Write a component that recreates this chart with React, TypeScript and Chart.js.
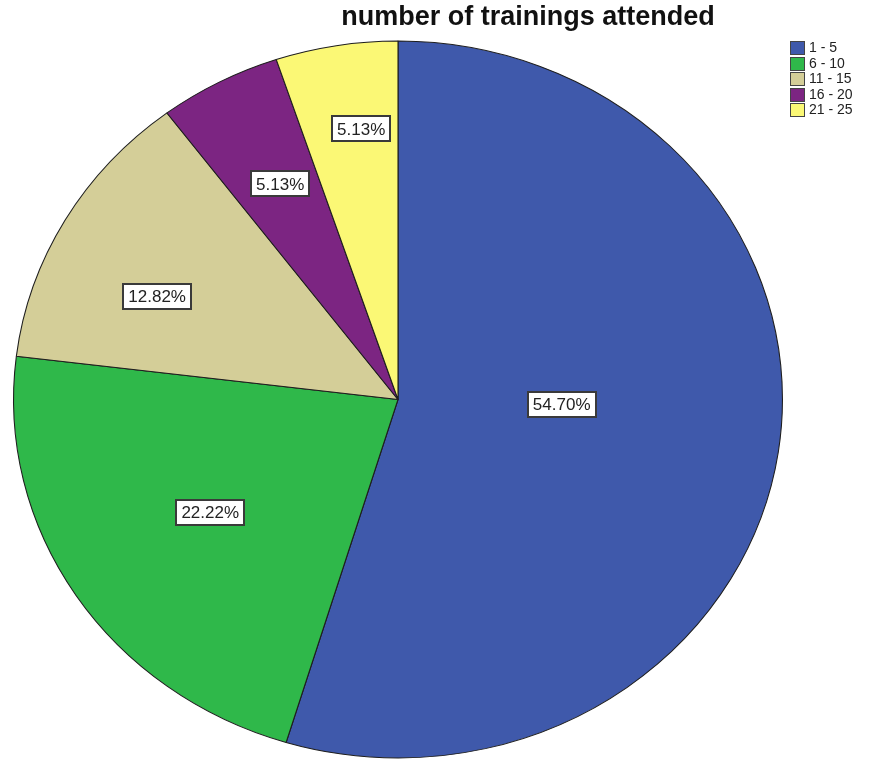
import { useEffect, useRef } from 'react';
import { Chart, registerables } from 'chart.js';

Chart.register(...registerables);

// Share of respondents by number of trainings attended (percent)
const categories = ['1 - 5', '6 - 10', '11 - 15', '16 - 20', '21 - 25'];
const percentages = [54.7, 22.22, 12.82, 5.13, 5.13];
const sliceColors = ['#3F59AB', '#2FB84A', '#D4CE98', '#7C2582', '#FBF875'];
const chartTitle = 'number of trainings attended';

// Pie is drawn as a slightly wide ellipse (horizontal / vertical radius)
const STRETCH_X = 385 / 359;
// Label anchor per slice: fraction of radius and angular nudge in degrees
const labelRadius = [0.426, 0.581, 0.689, 0.675, 0.761];
const labelNudgeDeg = [-6.6, 0.3, -5.4, 0.7, 2.0];

const FONT = '"Liberation Sans", Arial, Helvetica, sans-serif';

const stretchPlugin = {
  id: 'stretchPie',
  beforeDatasetsDraw(chart: any) {
    const arc = chart.getDatasetMeta(0).data[0];
    if (!arc) return;
    const ctx = chart.ctx;
    ctx.save();
    ctx.translate(arc.x, arc.y);
    ctx.scale(STRETCH_X, 1);
    ctx.translate(-arc.x, -arc.y);
  },
  afterDatasetsDraw(chart: any) {
    chart.ctx.restore();
  },
};

const decorPlugin = {
  id: 'decor',
  afterDraw(chart: any) {
    const ctx: CanvasRenderingContext2D = chart.ctx;
    const meta = chart.getDatasetMeta(0);

    // value labels in framed white boxes
    ctx.save();
    ctx.font = `17px ${FONT}`;
    ctx.textAlign = 'center';
    ctx.textBaseline = 'middle';
    meta.data.forEach((arc: any, i: number) => {
      const { startAngle, endAngle, outerRadius, x, y } = arc.getProps(
        ['startAngle', 'endAngle', 'outerRadius', 'x', 'y'],
        true
      );
      const a = (startAngle + endAngle) / 2 + (labelNudgeDeg[i] * Math.PI) / 180;
      const r = outerRadius * labelRadius[i];
      const px = x + Math.cos(a) * r * STRETCH_X;
      const py = y + Math.sin(a) * r;
      const text = percentages[i].toFixed(2) + '%';
      const w = ctx.measureText(text).width + 10;
      const h = 25;
      ctx.fillStyle = '#FFFFFF';
      ctx.fillRect(Math.round(px - w / 2), Math.round(py - h / 2), Math.round(w), h);
      ctx.strokeStyle = '#3A3A3A';
      ctx.lineWidth = 2;
      ctx.strokeRect(Math.round(px - w / 2), Math.round(py - h / 2), Math.round(w), h);
      ctx.fillStyle = '#222222';
      ctx.fillText(text, px, py + 1);
    });
    ctx.restore();

    // title
    ctx.save();
    ctx.font = `bold 27px ${FONT}`;
    ctx.fillStyle = '#111111';
    ctx.textAlign = 'center';
    ctx.textBaseline = 'alphabetic';
    ctx.fillText(chartTitle, 528, 25);
    ctx.restore();

    // legend
    ctx.save();
    ctx.font = `14px ${FONT}`;
    ctx.textBaseline = 'middle';
    ctx.textAlign = 'left';
    categories.forEach((label, i) => {
      const top = 41 + i * 15.5;
      ctx.fillStyle = sliceColors[i];
      ctx.fillRect(790.5, Math.round(top) + 0.5, 14, 13);
      ctx.strokeStyle = '#444444';
      ctx.lineWidth = 1;
      ctx.strokeRect(790.5, Math.round(top) + 0.5, 14, 13);
      ctx.fillStyle = '#222222';
      ctx.fillText(label, 809, Math.round(top) + 7.5);
    });
    ctx.restore();
  },
};

export default function App() {
  const canvasRef = useRef<HTMLCanvasElement | null>(null);

  useEffect(() => {
    if (!canvasRef.current) return;
    const chart = new Chart(canvasRef.current, {
      type: 'pie',
      data: {
        labels: categories,
        datasets: [
          {
            data: percentages,
            backgroundColor: sliceColors,
            borderColor: '#1E1E1E',
            borderWidth: 1,
            hoverOffset: 0,
            clip: false,
          } as any,
        ],
      },
      options: {
        responsive: false,
        animation: false,
        layout: { padding: { top: 40, bottom: 1, left: 39, right: 112 } },
        plugins: {
          legend: { display: false },
          title: { display: false },
          tooltip: { enabled: false },
        },
      },
      plugins: [stretchPlugin, decorPlugin],
    });
    return () => chart.destroy();
  }, []);

  return (
    <div style={{ position: 'absolute', left: 0, top: 0, width: 869, height: 760, background: '#FFFFFF' }}>
      <canvas ref={canvasRef} width={869} height={760} style={{ display: 'block' }} />
    </div>
  );
}
